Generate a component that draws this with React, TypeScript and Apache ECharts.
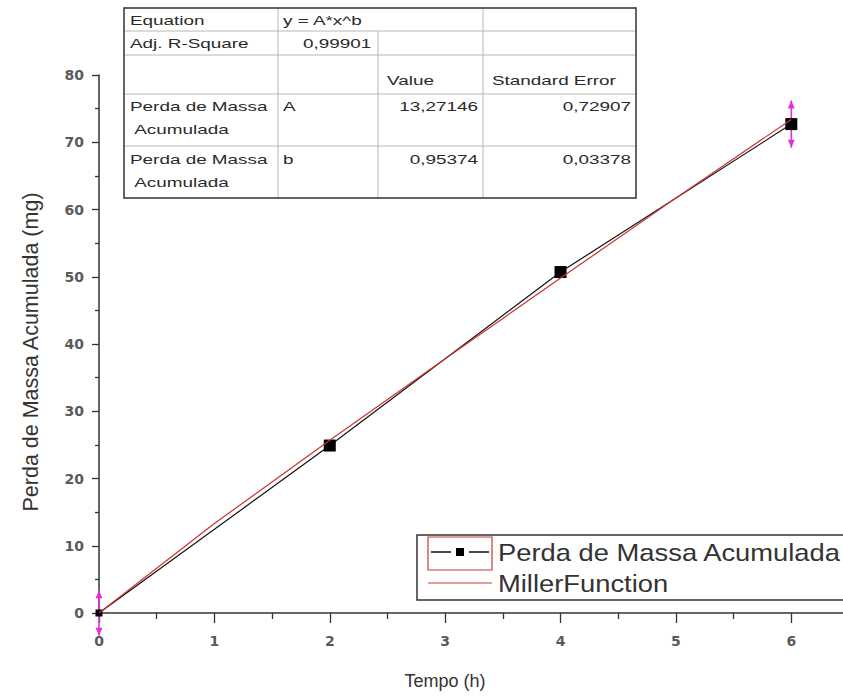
import React, { useEffect, useRef } from "react";
import * as echarts from "echarts";

// ---- data ----
const timeHours = [0, 2, 4, 6];
const massLoss = [0, 24.9, 50.7, 72.7];
const massLossError = [3.4, 0, 0, 3.5];
const fitTime = [0, 1, 2, 3, 4, 5, 6];
const fitValues = [0, 13.3, 25.7, 37.8, 49.8, 61.7, 73.4];
const seriesNames = ["Perda de Massa Acumulada", "MillerFunction"];
const xAxisTitle = "Tempo (h)";
const yAxisTitle = "Perda de Massa Acumulada (mg)";
const tableRows = [
  ["Equation", "y = A*x^b", "", ""],
  ["Adj. R-Square", "0,99901", "", ""],
  ["", "", "Value", "Standard Error"],
  ["Perda de Massa\n Acumulada", "A", "13,27146", "0,72907"],
  ["Perda de Massa\n Acumulada", "b", "0,95374", "0,03378"],
];

// ---- layout (not data) ----
const W = 849;
const H = 700;
const colEdges = [124, 278, 378, 483, 636];
const rowEdges = [8, 31, 55, 94, 146, 198];
const rowTextY = [20, 43, 80, 106, 159];
const lineGap = 23;
const TXT_SCALE = 1.4;
const TXT_SIZE = 13.5;
const FONT = "'Liberation Sans', Arial, sans-serif";
const TICK_FONT = "'DejaVu Sans', 'Liberation Sans', sans-serif";

function buildTable(): any[] {
  const els: any[] = [];
  els.push({
    type: "rect",
    shape: { x: colEdges[0], y: rowEdges[0], width: colEdges[4] - colEdges[0], height: rowEdges[5] - rowEdges[0] },
    style: { fill: "#fff", stroke: "none" },
    z: 10,
  });
  for (let r = 1; r < rowEdges.length - 1; r++) {
    els.push({
      type: "line",
      shape: { x1: colEdges[0], y1: rowEdges[r], x2: colEdges[4], y2: rowEdges[r] },
      style: { stroke: "#b8b8b8", lineWidth: 1 },
      z: 11,
    });
  }
  for (let c = 1; c < colEdges.length - 1; c++) {
    const yStart = c === 2 ? rowEdges[1] : rowEdges[0];
    els.push({
      type: "line",
      shape: { x1: colEdges[c], y1: yStart, x2: colEdges[c], y2: rowEdges[5] },
      style: { stroke: "#b8b8b8", lineWidth: 1 },
      z: 11,
    });
  }
  els.push({
    type: "rect",
    shape: { x: colEdges[0], y: rowEdges[0], width: colEdges[4] - colEdges[0], height: rowEdges[5] - rowEdges[0] },
    style: { fill: "none", stroke: "#333", lineWidth: 1.5 },
    z: 12,
  });
  tableRows.forEach((row, r) => {
    row.forEach((cell, c) => {
      if (!cell) return;
      const isNum = /^[0-9]/.test(cell) && r >= 3;
      const lines = cell.split("\n");
      lines.forEach((ln, li) => {
        const x = isNum ? colEdges[c + 1] - 5 : colEdges[c] + (c === 0 ? 6 : 5) + (r === 1 && c === 1 ? 20 : 0) + (r === 2 ? 4 : 0);
        els.push({
          type: "text",
          x,
          y: rowTextY[r] + li * lineGap,
          scaleX: TXT_SCALE,
          style: {
            text: ln,
            fill: "#2a2a2a",
            fontSize: TXT_SIZE,
            fontFamily: FONT,
            textAlign: isNum ? "right" : "left",
            textVerticalAlign: "middle",
          },
          z: 13,
        });
      });
    });
  });
  return els;
}

function buildLegend(): any[] {
  const els: any[] = [];
  els.push({
    type: "rect",
    shape: { x: 417, y: 535, width: 440, height: 65 },
    style: { fill: "#fff", stroke: "#333", lineWidth: 1.5 },
    z: 10,
  });
  els.push({
    type: "rect",
    shape: { x: 428, y: 537, width: 64, height: 33 },
    style: { fill: "none", stroke: "#c83a3a", lineWidth: 1.2 },
    z: 11,
  });
  els.push({ type: "line", shape: { x1: 431, y1: 552, x2: 451, y2: 552 }, style: { stroke: "#111", lineWidth: 1.5 }, z: 12 });
  els.push({ type: "line", shape: { x1: 469, y1: 552, x2: 489, y2: 552 }, style: { stroke: "#111", lineWidth: 1.5 }, z: 12 });
  els.push({ type: "rect", shape: { x: 456, y: 548, width: 8, height: 8 }, style: { fill: "#000" }, z: 12 });
  els.push({ type: "line", shape: { x1: 428, y1: 583, x2: 492, y2: 583 }, style: { stroke: "#c83a3a", lineWidth: 1.2 }, z: 12 });
  [0, 1].forEach((i) => {
    els.push({
      type: "text",
      x: 498,
      y: i === 0 ? 553 : 584,
      scaleX: 1.14,
      style: {
        text: seriesNames[i],
        fill: "#333",
        fontSize: 24,
        fontFamily: FONT,
        textAlign: "left",
        textVerticalAlign: "middle",
      },
      z: 12,
    });
  });
  return els;
}

export default function App() {
  const ref = useRef<HTMLDivElement>(null);
  useEffect(() => {
    if (!ref.current) return;
    const chart = echarts.init(ref.current, undefined, { renderer: "svg" });
    const ERR = "#e030e0";
    const axisColor = "#333";
    const tickLabel = { fontSize: 14, color: "#5a5a5a", fontWeight: "bold" as const, fontFamily: TICK_FONT };
    chart.setOption({
      animation: false,
      backgroundColor: "#fff",
      textStyle: { fontFamily: FONT },
      grid: { left: 99, right: 0, top: 75, bottom: 87, containLabel: false },
      xAxis: {
        type: "value",
        min: 0,
        max: 6.5,
        interval: 1,
        name: xAxisTitle,
        nameLocation: "middle",
        nameGap: 59,
        nameTextStyle: { fontSize: 18, color: "#333", fontFamily: FONT, padding: [0, 58, 0, 0] },
        splitLine: { show: false },
        axisLine: { lineStyle: { color: axisColor, width: 1.5 } },
        axisTick: { length: 10, lineStyle: { color: axisColor, width: 1.3 } },
        minorTick: { show: true, splitNumber: 2, length: 6, lineStyle: { color: axisColor, width: 1.3 } },
        axisLabel: { ...tickLabel, margin: 21, showMaxLabel: false },
      },
      yAxis: {
        type: "value",
        min: 0,
        max: 80,
        interval: 10,
        name: yAxisTitle,
        nameLocation: "middle",
        nameGap: 57,
        nameTextStyle: { fontSize: 21.5, color: "#333", fontFamily: FONT, padding: [0, 16, 0, 0] },
        splitLine: { show: false },
        axisLine: { show: true, lineStyle: { color: axisColor, width: 1.5 } },
        axisTick: { show: true, length: 7, lineStyle: { color: axisColor, width: 1.3 } },
        minorTick: { show: true, splitNumber: 2, length: 4, lineStyle: { color: axisColor, width: 1.3 } },
        axisLabel: { ...tickLabel, margin: 15 },
      },
      legend: { show: false },
      series: [
        {
          type: "custom",
          name: "error",
          z: 1,
          clip: false,
          data: timeHours.map((t, i) => [t, massLoss[i], massLossError[i]]),
          encode: { x: 0, y: 1 },
          renderItem: (params: any, api: any) => {
            const x = api.value(0);
            const y = api.value(1);
            const e = api.value(2);
            if (!e) return { type: "group", children: [] };
            const top = api.coord([x, y + e]);
            const bot = api.coord([x, y - e]);
            const w = 3.5;
            const h = 8;
            return {
              type: "group",
              children: [
                { type: "line", shape: { x1: top[0], y1: top[1], x2: bot[0], y2: bot[1] }, style: { stroke: ERR, lineWidth: 1.6 } },
                { type: "polygon", shape: { points: [[top[0], top[1]], [top[0] - w, top[1] + h], [top[0] + w, top[1] + h]] }, style: { fill: ERR } },
                { type: "polygon", shape: { points: [[bot[0], bot[1]], [bot[0] - w, bot[1] - h], [bot[0] + w, bot[1] - h]] }, style: { fill: ERR } },
              ],
            };
          },
        },
        {
          type: "line",
          name: seriesNames[0],
          data: timeHours.map((t, i) => [t, massLoss[i]]),
          symbol: "rect",
          symbolSize: (v: number[]) => (v[0] === 0 ? 7 : 12),
          itemStyle: { color: "#000" },
          lineStyle: { color: "#111", width: 1.2 },
          z: 3,
        },
        {
          type: "line",
          name: seriesNames[1],
          data: fitTime.map((t, i) => [t, fitValues[i]]),
          showSymbol: false,
          symbol: "none",
          lineStyle: { color: "#cc3333", width: 1.2 },
          z: 4,
        },
      ],
      graphic: [...buildTable(), ...buildLegend()],
    });
    return () => chart.dispose();
  }, []);
  return (
    <div style={{ position: "fixed", left: 0, top: 0, width: 843, height: H, overflow: "hidden", background: "#fff" }}>
      <div ref={ref} style={{ width: W, height: H }} />
    </div>
  );
}
